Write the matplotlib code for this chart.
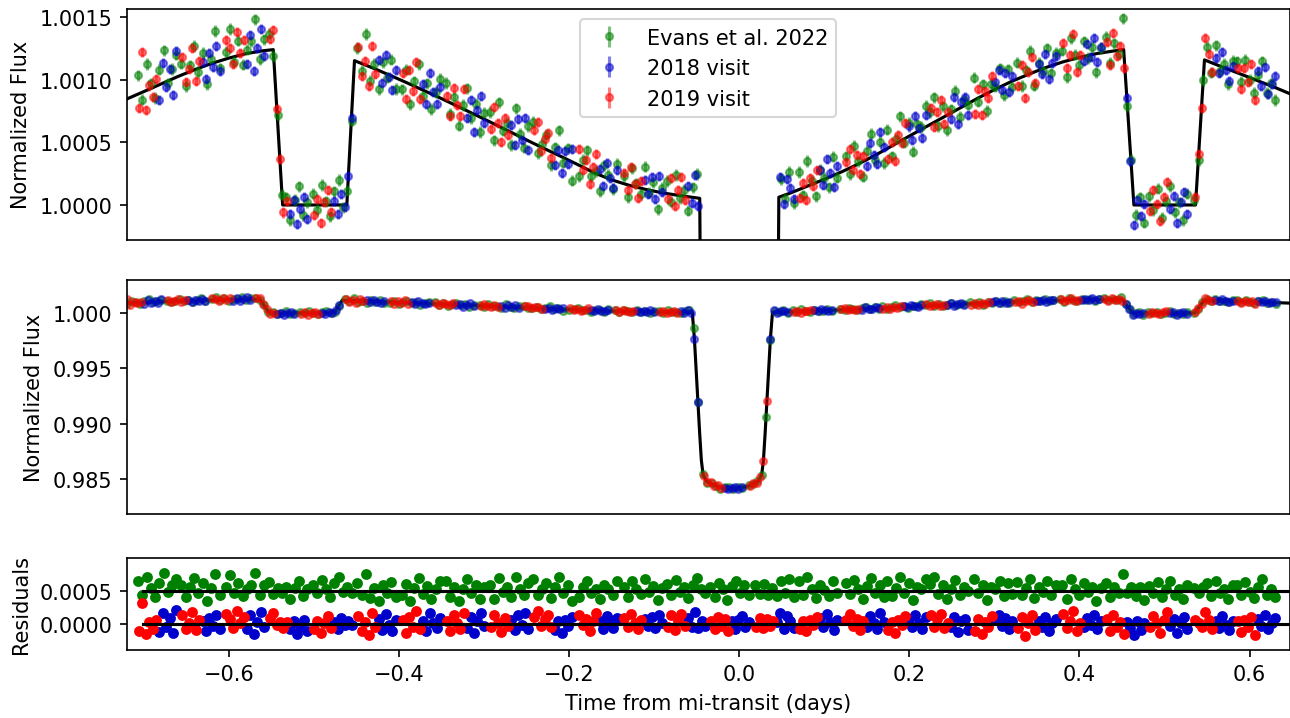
"""Phase curve of the planet: data, model and residuals."""
import numpy as np
import matplotlib
matplotlib.use("Agg")
import matplotlib.pyplot as plt

# start of each HST orbit (days from mid-transit)
orbit_start = [-0.707, -0.656, -0.604, -0.553, -0.501, -0.449, -0.397, -0.345,
               -0.293, -0.242, -0.189, -0.136, -0.085, -0.034, 0.019, 0.070,
               0.125, 0.174, 0.224, 0.276, 0.327, 0.380, 0.431, 0.482, 0.535, 0.585]

# exposure times inside one orbit (days after orbit start)
evans_offset = [0.000, 0.005, 0.010, 0.015, 0.020, 0.025, 0.030, 0.035, 0.040, 0.045]
v2018_offset = [0.025, 0.029, 0.033, 0.037, 0.041, 0.045]
v2019_offset = [0.001, 0.005, 0.009, 0.013, 0.017, 0.021]

# flux above 1, in ppm, one row per orbit
evans_ppm = [
    [1034, 839, 1124, 969, 854, 1079, 1234, 969, 1084, 1199],
    [1126, 950, 1113, 1267, 1060, 1212, 965, 1167, 1388, 1089],
    [1224, 1404, 1142, 1311, 1120, 1238, 1304, 1480, 1165, 1321],
    [1365, 1189, 716, 83, 60, -120, 40, 150, -80, 20],
    [90, -40, 160, 30, -90, 110, 200, -20, 114, 673],
    [1251, 1068, 1364, 991, 1127, 923, 1138, 1014, 1159, 924],
    [923, 1078, 803, 987, 1122, 866, 971, 765, 900, 1004],
    [972, 726, 859, 633, 797, 930, 694, 808, 582, 735],
    [742, 515, 819, 592, 655, 478, 772, 565, 458, 631],
    [662, 415, 489, 562, 316, 460, 594, 338, 452, 195],
    [229, 362, 435, 228, 272, 109, 315, 241, 128, 327],
    [231, 60, 291, 173, 84, 306, 98, 181, -36, 137],
    [191, 26, 240, 55, 120, -45, 141, 246, -1389, -8040],
    [-14540, -15330, -15320, -15600, -15860, -15737, -15692, -15893, -15738, -15840],
    [-15540, -15490, -15140, -14660, -9360, -2480, 208, 50, 262, 16],
    [263, 76, 350, 194, 68, 281, 215, 140, 384, 219],
    [389, 245, 471, 347, 225, 432, 570, 357, 506, 335],
    [600, 389, 528, 708, 497, 656, 425, 644, 622, 791],
    [740, 859, 628, 786, 595, 764, 912, 701, 840, 799],
    [1015, 824, 961, 749, 966, 943, 1090, 876, 1082, 938],
    [1135, 949, 1073, 1227, 951, 1134, 1067, 1250, 1051, 1212],
    [1230, 1019, 1329, 1198, 1117, 1305, 1172, 1260, 1057, 1252],
    [1339, 1134, 1289, 1204, 1488, 786, 360, -80, 60, -140],
    [70, -40, 130, -100, 30, 150, -60, 20, -120, 90],
    [40, 356, 997, 1259, 1055, 1272, 1068, 1125, 962, 1149],
    [1146, 983, 1160, 996, 893, 1040, 1147, 893, 970, 837],
]
v2018_ppm = [
    [839, 1131, 943, 1085, 877, 1229],
    [1142, 1002, 1212, 1102, 1270, 1069],
    [1128, 1353, 1067, 1252, 1406, 1191],
    [-70, 40, -150, -30, 60, -110],
    [30, -70, 90, -20, 232, 690],
    [1153, 971, 1199, 1018, 916, 1074],
    [966, 804, 1052, 899, 807, 944],
    [690, 837, 584, 761, 868, 655],
    [638, 475, 682, 518, 695, 441],
    [320, 437, 255, 432, 328, 445],
    [289, 148, 337, 216, 136, 277],
    [196, 90, 224, 49, 233, 107],
    [155, 12, 238, -6, -2360, -8030],
    [-15767, -15915, -15803, -15729, -15871, -15750],
    [-2370, 225, 5, 205, 135, 46],
    [281, 162, 364, 256, 147, 309],
    [312, 496, 400, 325, 580, 465],
    [626, 521, 706, 611, 536, 721],
    [684, 859, 644, 819, 864, 719],
    [983, 1076, 920, 1053, 905, 1028],
    [1124, 1044, 1205, 1004, 1133, 1192],
    [1145, 1281, 1177, 1333, 1138, 1262],
    [856, 353, -160, 40, -90, 10],
    [-30, 70, -140, 20, 100, -70],
    [1172, 1051, 1220, 1080, 989, 1109],
    [1070, 950, 1099, 888, 968, 1027],
]
v2019_ppm = [
    [777, 1219, 761, 953, 865, 1007],
    [1179, 980, 1081, 1252, 992, 1152],
    [1317, 1254, 1121, 1378, 1215, 1312],
    [1326, 1399, 768, 368, -60, 30],
    [-80, 50, -140, 20, 120, -60],
    [1259, 1028, 1147, 946, 1265, 1044],
    [1050, 848, 1076, 913, 1141, 849],
    [868, 706, 932, 800, 707, 923],
    [609, 785, 652, 499, 695, 562],
    [598, 665, 432, 529, 576, 373],
    [445, 282, 358, 165, 302, 410],
    [258, 120, 303, 166, 59, 192],
    [50, 216, -9, 117, 223, 39],
    [-14700, -15310, -15290, -15590, -15580, -15840],
    [-15640, -15350, -15340, -14830, -13330, -7950],
    [55, 176, 37, 218, 150, 281],
    [342, 445, 278, 401, 244, 388],
    [364, 499, 354, 560, 495, 651],
    [774, 619, 744, 839, 644, 739],
    [729, 924, 718, 912, 856, 1030],
    [948, 1119, 851, 1062, 1183, 973],
    [1292, 1089, 1197, 1364, 1061, 1199],
    [1300, 1114, 1368, 1192, 1265, 1089],
    [-50, 120, 10, -130, 60, 180],
    [60, 406, 776, 1334, 1204, 1063],
    [1093, 923, 1093, 982, 1121, 841],
]

# flux uncertainties (ppm)
evans_err = 45
v2018_err = 40
v2019_err = 40

# best-fit model (time, ppm above 1)
model_t = [-0.720, -0.700, -0.680, -0.660, -0.640, -0.620, -0.600, -0.580, -0.560,
           -0.548, -0.537, -0.4615, -0.4525, -0.430, -0.410, -0.390, -0.370, -0.350,
           -0.330, -0.310, -0.290, -0.270, -0.250, -0.230, -0.210, -0.190, -0.170,
           -0.150, -0.130, -0.110, -0.090, -0.070, -0.0465, -0.044, -0.041, -0.038,
           -0.036, -0.034, -0.030, -0.020, -0.010, 0.000, 0.010, 0.020, 0.030, 0.034,
           0.036, 0.038, 0.041, 0.044, 0.0465, 0.060, 0.080, 0.100, 0.120, 0.140,
           0.160, 0.180, 0.200, 0.220, 0.240, 0.260, 0.280, 0.300, 0.320, 0.340,
           0.360, 0.380, 0.400, 0.420, 0.440, 0.452, 0.464, 0.5365, 0.547, 0.570,
           0.590, 0.610, 0.630, 0.650]
model_ppm = [846, 905, 965, 1025, 1080, 1130, 1172, 1207, 1230,
             1239, 0, 0, 1151, 1090, 1032, 972, 910, 848,
             783, 718, 652, 585, 518, 452, 388, 322, 255,
             200, 158, 124, 96, 75, 53, -2400, -6600, -10800,
             -13300, -14600, -15200, -15600, -15800, -15870, -15800, -15600, -15200, -14600,
             -13300, -10800, -6600, -2400, 62, 95, 150, 205, 263, 327,
             397, 473, 550, 625, 700, 775, 850, 920, 985, 1042,
             1095, 1140, 1177, 1207, 1228, 1239, 0, 0, 1157, 1095,
             1043, 990, 937, 880]

# extent of the zero lines in the residual panel
resid_line_t = [-0.7015, 0.647]
evans_resid_shift = 0.0005


def build_series(offsets, ppm):
    """Times and normalized flux of one data set."""
    times = np.add.outer(np.array(orbit_start), np.array(offsets)).ravel()
    flux = 1 + np.array(ppm, dtype=float).ravel() * 1e-6
    return times, flux


def main():
    """."""
    mod_t = np.array(model_t)
    mod_f = 1 + np.array(model_ppm) * 1e-6

    series = [
        ("Evans et al. 2022", "green", "green", evans_offset, evans_ppm, evans_err, evans_resid_shift),
        ("2018 visit", "mediumblue", "#0000cc", v2018_offset, v2018_ppm, v2018_err, 0.0),
        ("2019 visit", "red", "red", v2019_offset, v2019_ppm, v2019_err, 0.0),
    ]

    fig = plt.figure(figsize=(8.6, 4.7933), dpi=150)
    left = 127 / 1290
    width = 1162.5 / 1290
    ax1 = fig.add_axes([left, 1 - 240.7 / 719, width, 230.7 / 719])
    ax2 = fig.add_axes([left, 1 - 515 / 719, width, 234 / 719])
    ax3 = fig.add_axes([left, 1 - 650.7 / 719, width, 91.7 / 719])

    for ax in (ax1, ax2):
        ax.plot(mod_t, mod_f, color="black", lw=1.5, zorder=1)

    for label, col, rcol, offs, ppm, err, shift in series:
        t, f = build_series(offs, ppm)
        for ax in (ax1, ax2):
            ax.errorbar(t, f, yerr=err * 1e-6, fmt="o", color=col, ms=3.4,
                        alpha=0.5, label=label, zorder=2)
        resid = f - np.interp(t, mod_t, mod_f) + shift
        ax3.plot(t, resid, "o", color=rcol, ms=4.2, zorder=2)

    for shift in (evans_resid_shift, 0.0):
        ax3.plot(resid_line_t, [shift, shift], color="black", lw=1.5, zorder=3)

    ax1.set_xlim(-0.720, 0.647)
    ax1.set_ylim(0.999723, 1.001563)
    ax1.set_yticks([1.0, 1.0005, 1.0010, 1.0015])
    ax1.set_xticks([])
    ax1.set_ylabel("Normalized Flux")
    ax1.legend(loc="upper center")

    ax2.set_xlim(-0.702, 0.646)
    ax2.set_ylim(0.98184, 1.00298)
    ax2.set_yticks([0.985, 0.990, 0.995, 1.000])
    ax2.set_xticks([])
    ax2.set_ylabel("Normalized Flux")

    ax3.set_xlim(-0.720, 0.647)
    ax3.set_ylim(-0.000385, 0.00099)
    ax3.set_yticks([0.0, 0.0005])
    ax3.set_xticks([-0.6, -0.4, -0.2, 0.0, 0.2, 0.4, 0.6])
    ax3.set_ylabel("Residuals")
    ax3.set_xlabel("Time from mi-transit (days)")

    for ax in (ax1, ax2, ax3):
        ax.ticklabel_format(axis="y", useOffset=False)

    fig.savefig("out.png", dpi=150)
    plt.close(fig)


if __name__ == "__main__":
    main()
